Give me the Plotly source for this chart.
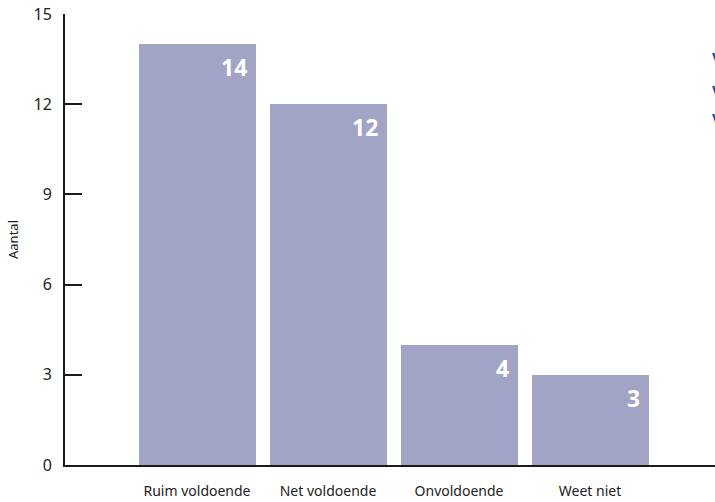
import plotly.graph_objects as go

categories = ["Ruim voldoende", "Net voldoende", "Onvoldoende", "Weet niet"]
values = [14, 12, 4, 3]
y_ticks = [0, 3, 6, 9, 12, 15]
legend_stubs = ["V", "V", "V"]

bar_color = "#a2a4c6"
font_family = "Noto Sans, Open Sans, sans-serif"

fig = go.Figure()
fig.add_trace(go.Bar(
    x=list(range(len(categories))),
    y=values,
    width=0.893,
    marker=dict(color=bar_color, line=dict(width=0)),
    hoverinfo="skip",
))

annotations = []
for i, v in enumerate(values):
    annotations.append(dict(
        x=i + 0.4465, y=v, xref="x", yref="y",
        text=f"<b>{v}</b>", showarrow=False,
        xanchor="right", yanchor="top", xshift=-7, yshift=-5,
        font=dict(family=font_family, size=23, color="white"),
    ))

for j, s in enumerate(legend_stubs):
    annotations.append(dict(
        x=1.0, y=[0.905, 0.831, 0.769][j], xref="paper", yref="paper",
        text=f"<b>{s}</b>", showarrow=False,
        xanchor="left", yanchor="middle", xshift=-5,
        font=dict(family=font_family, size=15, color="#3b3f86"),
    ))

fig.update_layout(
    width=715, height=502,
    margin=dict(l=65, r=0, t=14, b=37),
    paper_bgcolor="white", plot_bgcolor="white",
    showlegend=False,
    bargap=0,
    font=dict(family=font_family, color="#222222"),
    annotations=annotations,
    xaxis=dict(
        range=[-1.0076, 3.954],
        tickmode="array",
        tickvals=list(range(len(categories))),
        ticktext=categories,
        showgrid=False, zeroline=False,
        showline=True, linecolor="#1a1a1a", linewidth=2,
        ticks="", tickfont=dict(size=14, color="#222222"),
        ticklabelstandoff=12,
        fixedrange=True,
    ),
    yaxis=dict(
        range=[0, 15],
        tickmode="array", tickvals=y_ticks,
        showgrid=False, zeroline=False,
        showline=True, linecolor="#1a1a1a", linewidth=2,
        ticks="inside", ticklen=17, tickwidth=2, tickcolor="#1a1a1a",
        tickfont=dict(size=16, color="#222222"),
        ticklabelstandoff=8,
        title=dict(text="Aantal", font=dict(size=13, color="#222222"), standoff=12),
        fixedrange=True,
    ),
)

fig.write_html("out.html", config={"displayModeBar": False})
